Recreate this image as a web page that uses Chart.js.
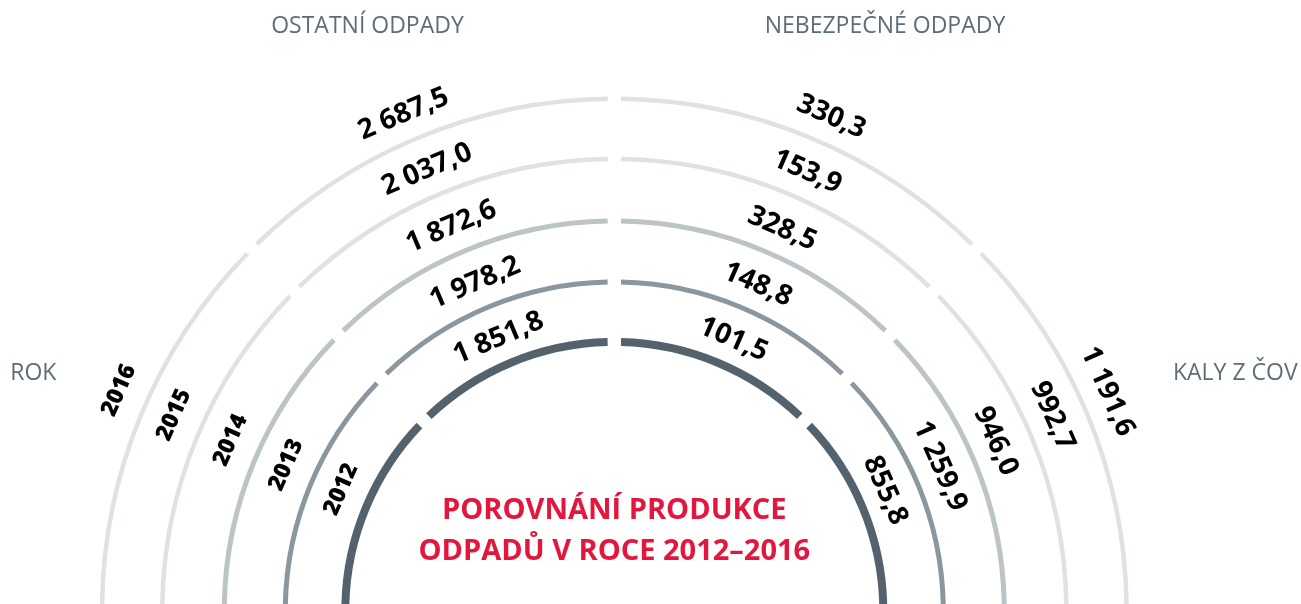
<!DOCTYPE html>
<html lang="cs">
<head>
<meta charset="utf-8">
<title>Porovnání produkce odpadů</title>
<script src="https://cdn.jsdelivr.net/npm/chart.js@4/dist/chart.umd.min.js"></script>
<style>
  html, body { margin: 0; padding: 0; background: #fff; overflow: hidden; }
  #wrap { position: relative; width: 1301px; height: 604px; }
</style>
</head>
<body>
<div id="wrap"><canvas id="wasteChart"></canvas></div>
<script>
const years = ["2012", "2013", "2014", "2015", "2016"];
const categories = ["ROK", "OSTATNÍ ODPADY", "NEBEZPEČNÉ ODPADY", "KALY Z ČOV"];
const ostatni = [1851.8, 1978.2, 1872.6, 2037.0, 2687.5];
const nebezpecne = [101.5, 148.8, 328.5, 153.9, 330.3];
const kaly = [855.8, 1259.9, 946.0, 992.7, 1191.6];
const titleLines = ["POROVNÁNÍ PRODUKCE", "ODPADŮ V ROCE 2012–2016"];

// ring look, outermost ring (2016) first
const ringColors = ["#dfe2e2", "#dfe2e2", "#bdc4c7", "#8b979e", "#53626c"];
const ringWidths = [4.5, 4.5, 5, 5, 8];
const ringGaps = [55.7, 57.3, 56, 53.5];
// labels don't sit exactly in the middle of each segment (degrees)
const labelNudge = [1.5, -0.5, 1.2, -1.5];

const W = 1301, H = 604;
const CX = 614.3, CY = 611;
const SPACING = 33;
const SHIFT = SPACING / 2; // arc element draws everything spacing/2 further out
const OUTER = 514.5 - SHIFT;
const INNER = 265 - SHIFT;

const fmt = (v) => {
  const [i, d] = v.toFixed(1).split(".");
  return i.replace(/\B(?=(\d{3})+(?!\d))/g, " ") + "," + d;
};

// one ring per year, transparent rings in between keep the spacing
const datasets = [];
years.map((y, i) => i).reverse().forEach((yi, k) => {
  datasets.push({
    label: years[yi],
    yearIndex: yi,
    data: categories.map(() => 1),
    backgroundColor: ringColors[k],
    weight: ringWidths[k],
    borderWidth: 0,
    spacing: SPACING,
  });
  if (k < ringGaps.length) {
    datasets.push({
      label: "gap",
      data: categories.map(() => 1),
      backgroundColor: "rgba(0,0,0,0)",
      weight: ringGaps[k],
      borderWidth: 0,
      spacing: SPACING,
    });
  }
});

const arcLabels = {
  id: "arcLabels",
  afterDatasetsDraw(chart) {
    const ctx = chart.ctx;
    ctx.save();
    ctx.textAlign = "center";
    ctx.textBaseline = "middle";
    ctx.fillStyle = "#000";
    chart.data.datasets.forEach((ds, di) => {
      if (ds.yearIndex === undefined) return;
      const yi = ds.yearIndex;
      const texts = [years[yi], fmt(ostatni[yi]), fmt(nebezpecne[yi]), fmt(kaly[yi])];
      chart.getDatasetMeta(di).data.forEach((arc, j) => {
        const p = arc.getProps(["x", "y", "startAngle", "endAngle", "innerRadius", "outerRadius"], true);
        const a = (p.startAngle + p.endAngle) / 2 + labelNudge[j] * Math.PI / 180;
        const r = (p.innerRadius + p.outerRadius) / 2 + SHIFT + (j === 0 ? 30 : 27.5);
        ctx.save();
        ctx.translate(p.x + Math.cos(a) * r, p.y + Math.sin(a) * r);
        ctx.rotate(a + Math.PI / 2);
        ctx.font = j === 0 ? "800 23px 'Open Sans'" : "700 28px 'Open Sans'";
        ctx.fillText(texts[j], 0, 0);
        ctx.restore();
      });
    });

    // category headers
    ctx.textBaseline = "alphabetic";
    ctx.fillStyle = "#5d6d77";
    ctx.font = "400 23px 'Open Sans'";
    ctx.fillText(categories[1], 367.5, 33);
    ctx.fillText(categories[2], 885, 33);
    ctx.fillText(categories[0], 33.3, 380);
    ctx.fillText(categories[3], 1235.3, 380);

    // title in the middle
    const c = chart.getDatasetMeta(0).data[0];
    ctx.fillStyle = "#e3173e";
    ctx.font = "700 29px 'Open Sans'";
    ctx.fillText(titleLines[0], c.x, c.y - 92);
    ctx.fillText(titleLines[1], c.x, c.y - 51);
    ctx.restore();
  },
};

const ctx = document.getElementById("wasteChart").getContext("2d");
new Chart(ctx, {
  type: "doughnut",
  data: { labels: categories, datasets: datasets },
  options: {
    responsive: true,
    maintainAspectRatio: false,
    animation: false,
    events: [],
    rotation: -90,
    circumference: 180,
    radius: OUTER,
    cutout: (INNER / OUTER) * 100 + "%",
    layout: {
      padding: {
        left: 0,
        right: W - 2 * CX,
        top: 2 * (CY - OUTER / 2) - H,
        bottom: 0,
      },
    },
    plugins: {
      legend: { display: false },
      tooltip: { enabled: false },
      title: { display: false },
    },
  },
  plugins: [arcLabels],
});
</script>
</body>
</html>
